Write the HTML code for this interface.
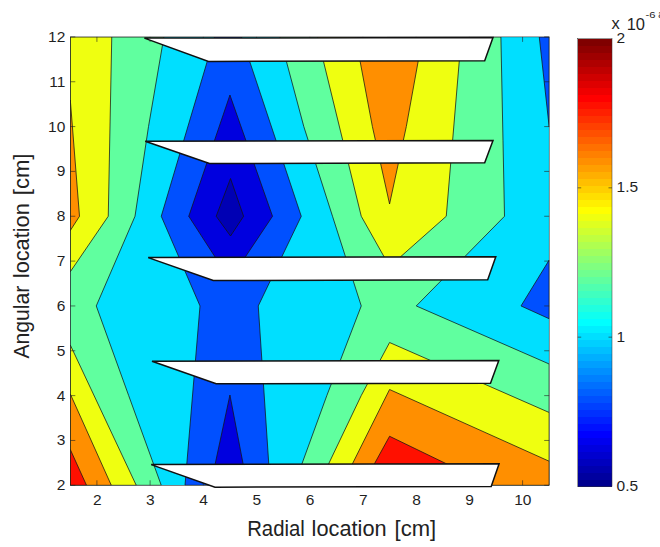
<!DOCTYPE html>
<html lang="en"><head><meta charset="utf-8"><title>Contour plot</title>
<style>html,body{margin:0;padding:0;background:#fff;}body{width:660px;height:547px;overflow:hidden;}</style>
</head><body>
<svg width="660" height="547" viewBox="0 0 660 547" style="display:block">
<rect x="0" y="0" width="660" height="547" fill="#fff"/>
<defs><clipPath id="ax"><rect x="70.3" y="36.9" width="478.90000000000003" height="448.40000000000003"/></clipPath></defs>
<g clip-path="url(#ax)">
<rect x="70.3" y="36.9" width="478.90000000000003" height="448.40000000000003" fill="#00DFFF"/>
<polygon points="70.30,36.90 163.90,36.90 148.50,126.58 135.00,216.26 96.25,305.94 128.70,395.62 161.25,485.30 70.30,485.30" fill="#60FF9F" stroke="#141414" stroke-width="0.75" stroke-linejoin="round"/>
<polygon points="70.30,36.90 111.75,36.90 108.25,216.26 70.30,271.75" fill="#EFFF10" stroke="#141414" stroke-width="0.75" stroke-linejoin="round"/>
<polygon points="70.30,100.00 79.50,216.26 70.30,230.50" fill="#FF8F00" stroke="#141414" stroke-width="0.75" stroke-linejoin="round"/>
<polygon points="70.30,345.00 136.25,485.30 70.30,485.30" fill="#EFFF10" stroke="#141414" stroke-width="0.75" stroke-linejoin="round"/>
<polygon points="70.30,394.00 111.30,485.30 70.30,485.30" fill="#FF8F00" stroke="#141414" stroke-width="0.75" stroke-linejoin="round"/>
<polygon points="70.30,449.50 86.50,485.30 70.30,485.30" fill="#FF1000" stroke="#141414" stroke-width="0.75" stroke-linejoin="round"/>
<polygon points="279.85,36.90 303.80,126.58 332.50,216.26 361.25,305.94 326.80,395.62 294.10,485.30 549.20,485.30 549.20,364.00 416.25,305.94 504.50,216.26 503.00,140.75 500.90,36.90" fill="#60FF9F" stroke="#141414" stroke-width="0.75" stroke-linejoin="round"/>
<polygon points="317.50,36.90 361.25,216.26 389.57,266.50 446.25,216.26 461.30,36.90" fill="#EFFF10" stroke="#141414" stroke-width="0.75" stroke-linejoin="round"/>
<polygon points="355.50,36.90 372.40,126.58 389.57,204.00 406.30,126.58 422.60,36.90" fill="#FF8F00" stroke="#141414" stroke-width="0.75" stroke-linejoin="round"/>
<polygon points="389.57,342.50 549.20,412.50 549.20,485.30 318.40,485.30 361.20,395.62" fill="#EFFF10" stroke="#141414" stroke-width="0.75" stroke-linejoin="round"/>
<polygon points="389.57,389.50 549.20,461.25 549.20,485.30 341.70,485.30" fill="#FF8F00" stroke="#141414" stroke-width="0.75" stroke-linejoin="round"/>
<polygon points="389.57,436.25 490.85,485.30 362.60,485.30" fill="#FF1000" stroke="#141414" stroke-width="0.75" stroke-linejoin="round"/>
<polygon points="214.50,36.90 161.25,216.26 200.00,305.94 185.00,485.30 270.20,485.30 258.25,305.94 301.25,216.26 241.50,36.90" fill="#0050FF" stroke="#141414" stroke-width="0.75" stroke-linejoin="round"/>
<polygon points="229.93,95.00 188.75,216.26 229.93,280.00 272.50,216.26" fill="#0000DF" stroke="#141414" stroke-width="0.75" stroke-linejoin="round"/>
<polygon points="230.53,178.50 243.60,216.26 230.53,236.00 216.20,216.26" fill="#0000B4" stroke="#141414" stroke-width="0.75" stroke-linejoin="round"/>
<polygon points="229.93,395.00 210.60,485.30 247.20,485.30" fill="#0000DF" stroke="#141414" stroke-width="0.75" stroke-linejoin="round"/>
<polygon points="539.25,36.90 549.20,36.90 549.20,127.00" fill="#0050FF" stroke="#141414" stroke-width="0.75" stroke-linejoin="round"/>
<polygon points="549.20,260.00 521.00,305.94 549.20,318.75" fill="#0050FF" stroke="#141414" stroke-width="0.75" stroke-linejoin="round"/>
</g>
<rect x="70.3" y="36.9" width="478.90000000000003" height="448.40000000000003" fill="none" stroke="#222" stroke-width="0.55"/>
<path d="M96.91,485.3v-5M96.91,36.9v5M150.12,485.3v-5M150.12,36.9v5M203.33,485.3v-5M203.33,36.9v5M256.54,485.3v-5M256.54,36.9v5M309.75,485.3v-5M309.75,36.9v5M362.96,485.3v-5M362.96,36.9v5M416.17,485.3v-5M416.17,36.9v5M469.38,485.3v-5M469.38,36.9v5M522.59,485.3v-5M522.59,36.9v5M70.3,485.30h5M549.2,485.30h-5M70.3,440.46h5M549.2,440.46h-5M70.3,395.62h5M549.2,395.62h-5M70.3,350.78h5M549.2,350.78h-5M70.3,305.94h5M549.2,305.94h-5M70.3,261.10h5M549.2,261.10h-5M70.3,216.26h5M549.2,216.26h-5M70.3,171.42h5M549.2,171.42h-5M70.3,126.58h5M549.2,126.58h-5M70.3,81.74h5M549.2,81.74h-5M70.3,36.90h5M549.2,36.90h-5" stroke="#222" stroke-width="0.6" fill="none"/>
<polygon points="144.40,38.10 493.00,37.50 484.70,60.80 208.50,61.40" fill="#fff" stroke="#111" stroke-width="1.5" stroke-linejoin="miter"/>
<polygon points="145.20,141.20 493.00,140.50 484.70,162.80 209.50,163.50" fill="#fff" stroke="#111" stroke-width="1.5" stroke-linejoin="miter"/>
<polygon points="148.20,257.60 495.80,256.80 487.70,279.70 213.30,280.50" fill="#fff" stroke="#111" stroke-width="1.5" stroke-linejoin="miter"/>
<polygon points="152.00,361.30 498.80,360.50 490.50,383.20 216.20,383.70" fill="#fff" stroke="#111" stroke-width="1.5" stroke-linejoin="miter"/>
<polygon points="151.20,464.60 499.10,463.80 491.20,486.60 215.00,487.20" fill="#fff" stroke="#111" stroke-width="1.5" stroke-linejoin="miter"/>
<rect x="577.7" y="479.50" width="34.30" height="7.00" fill="rgb(0,0,143)" shape-rendering="crispEdges"/>
<rect x="577.7" y="472.50" width="34.30" height="7.00" fill="rgb(0,0,159)" shape-rendering="crispEdges"/>
<rect x="577.7" y="465.50" width="34.30" height="7.00" fill="rgb(0,0,175)" shape-rendering="crispEdges"/>
<rect x="577.7" y="458.50" width="34.30" height="7.00" fill="rgb(0,0,191)" shape-rendering="crispEdges"/>
<rect x="577.7" y="451.50" width="34.30" height="7.00" fill="rgb(0,0,207)" shape-rendering="crispEdges"/>
<rect x="577.7" y="444.50" width="34.30" height="7.00" fill="rgb(0,0,223)" shape-rendering="crispEdges"/>
<rect x="577.7" y="437.50" width="34.30" height="7.00" fill="rgb(0,0,239)" shape-rendering="crispEdges"/>
<rect x="577.7" y="430.50" width="34.30" height="7.00" fill="rgb(0,0,255)" shape-rendering="crispEdges"/>
<rect x="577.7" y="423.50" width="34.30" height="7.00" fill="rgb(0,16,255)" shape-rendering="crispEdges"/>
<rect x="577.7" y="416.50" width="34.30" height="7.00" fill="rgb(0,32,255)" shape-rendering="crispEdges"/>
<rect x="577.7" y="409.50" width="34.30" height="7.00" fill="rgb(0,48,255)" shape-rendering="crispEdges"/>
<rect x="577.7" y="402.50" width="34.30" height="7.00" fill="rgb(0,64,255)" shape-rendering="crispEdges"/>
<rect x="577.7" y="395.50" width="34.30" height="7.00" fill="rgb(0,80,255)" shape-rendering="crispEdges"/>
<rect x="577.7" y="388.50" width="34.30" height="7.00" fill="rgb(0,96,255)" shape-rendering="crispEdges"/>
<rect x="577.7" y="381.50" width="34.30" height="7.00" fill="rgb(0,112,255)" shape-rendering="crispEdges"/>
<rect x="577.7" y="374.50" width="34.30" height="7.00" fill="rgb(0,128,255)" shape-rendering="crispEdges"/>
<rect x="577.7" y="367.50" width="34.30" height="7.00" fill="rgb(0,143,255)" shape-rendering="crispEdges"/>
<rect x="577.7" y="360.50" width="34.30" height="7.00" fill="rgb(0,159,255)" shape-rendering="crispEdges"/>
<rect x="577.7" y="353.50" width="34.30" height="7.00" fill="rgb(0,175,255)" shape-rendering="crispEdges"/>
<rect x="577.7" y="346.50" width="34.30" height="7.00" fill="rgb(0,191,255)" shape-rendering="crispEdges"/>
<rect x="577.7" y="339.50" width="34.30" height="7.00" fill="rgb(0,207,255)" shape-rendering="crispEdges"/>
<rect x="577.7" y="332.50" width="34.30" height="7.00" fill="rgb(0,223,255)" shape-rendering="crispEdges"/>
<rect x="577.7" y="325.50" width="34.30" height="7.00" fill="rgb(0,239,255)" shape-rendering="crispEdges"/>
<rect x="577.7" y="318.50" width="34.30" height="7.00" fill="rgb(0,255,255)" shape-rendering="crispEdges"/>
<rect x="577.7" y="311.50" width="34.30" height="7.00" fill="rgb(16,255,239)" shape-rendering="crispEdges"/>
<rect x="577.7" y="304.50" width="34.30" height="7.00" fill="rgb(32,255,223)" shape-rendering="crispEdges"/>
<rect x="577.7" y="297.50" width="34.30" height="7.00" fill="rgb(48,255,207)" shape-rendering="crispEdges"/>
<rect x="577.7" y="290.50" width="34.30" height="7.00" fill="rgb(64,255,191)" shape-rendering="crispEdges"/>
<rect x="577.7" y="283.50" width="34.30" height="7.00" fill="rgb(80,255,175)" shape-rendering="crispEdges"/>
<rect x="577.7" y="276.50" width="34.30" height="7.00" fill="rgb(96,255,159)" shape-rendering="crispEdges"/>
<rect x="577.7" y="269.50" width="34.30" height="7.00" fill="rgb(112,255,143)" shape-rendering="crispEdges"/>
<rect x="577.7" y="262.50" width="34.30" height="7.00" fill="rgb(128,255,128)" shape-rendering="crispEdges"/>
<rect x="577.7" y="255.50" width="34.30" height="7.00" fill="rgb(143,255,112)" shape-rendering="crispEdges"/>
<rect x="577.7" y="248.50" width="34.30" height="7.00" fill="rgb(159,255,96)" shape-rendering="crispEdges"/>
<rect x="577.7" y="241.50" width="34.30" height="7.00" fill="rgb(175,255,80)" shape-rendering="crispEdges"/>
<rect x="577.7" y="234.50" width="34.30" height="7.00" fill="rgb(191,255,64)" shape-rendering="crispEdges"/>
<rect x="577.7" y="227.50" width="34.30" height="7.00" fill="rgb(207,255,48)" shape-rendering="crispEdges"/>
<rect x="577.7" y="220.50" width="34.30" height="7.00" fill="rgb(223,255,32)" shape-rendering="crispEdges"/>
<rect x="577.7" y="213.50" width="34.30" height="7.00" fill="rgb(239,255,16)" shape-rendering="crispEdges"/>
<rect x="577.7" y="206.50" width="34.30" height="7.00" fill="rgb(255,255,0)" shape-rendering="crispEdges"/>
<rect x="577.7" y="199.50" width="34.30" height="7.00" fill="rgb(255,239,0)" shape-rendering="crispEdges"/>
<rect x="577.7" y="192.50" width="34.30" height="7.00" fill="rgb(255,223,0)" shape-rendering="crispEdges"/>
<rect x="577.7" y="185.50" width="34.30" height="7.00" fill="rgb(255,207,0)" shape-rendering="crispEdges"/>
<rect x="577.7" y="178.50" width="34.30" height="7.00" fill="rgb(255,191,0)" shape-rendering="crispEdges"/>
<rect x="577.7" y="171.50" width="34.30" height="7.00" fill="rgb(255,175,0)" shape-rendering="crispEdges"/>
<rect x="577.7" y="164.50" width="34.30" height="7.00" fill="rgb(255,159,0)" shape-rendering="crispEdges"/>
<rect x="577.7" y="157.50" width="34.30" height="7.00" fill="rgb(255,143,0)" shape-rendering="crispEdges"/>
<rect x="577.7" y="150.50" width="34.30" height="7.00" fill="rgb(255,128,0)" shape-rendering="crispEdges"/>
<rect x="577.7" y="143.50" width="34.30" height="7.00" fill="rgb(255,112,0)" shape-rendering="crispEdges"/>
<rect x="577.7" y="136.50" width="34.30" height="7.00" fill="rgb(255,96,0)" shape-rendering="crispEdges"/>
<rect x="577.7" y="129.50" width="34.30" height="7.00" fill="rgb(255,80,0)" shape-rendering="crispEdges"/>
<rect x="577.7" y="122.50" width="34.30" height="7.00" fill="rgb(255,64,0)" shape-rendering="crispEdges"/>
<rect x="577.7" y="115.50" width="34.30" height="7.00" fill="rgb(255,48,0)" shape-rendering="crispEdges"/>
<rect x="577.7" y="108.50" width="34.30" height="7.00" fill="rgb(255,32,0)" shape-rendering="crispEdges"/>
<rect x="577.7" y="101.50" width="34.30" height="7.00" fill="rgb(255,16,0)" shape-rendering="crispEdges"/>
<rect x="577.7" y="94.50" width="34.30" height="7.00" fill="rgb(255,0,0)" shape-rendering="crispEdges"/>
<rect x="577.7" y="87.50" width="34.30" height="7.00" fill="rgb(239,0,0)" shape-rendering="crispEdges"/>
<rect x="577.7" y="80.50" width="34.30" height="7.00" fill="rgb(223,0,0)" shape-rendering="crispEdges"/>
<rect x="577.7" y="73.50" width="34.30" height="7.00" fill="rgb(207,0,0)" shape-rendering="crispEdges"/>
<rect x="577.7" y="66.50" width="34.30" height="7.00" fill="rgb(191,0,0)" shape-rendering="crispEdges"/>
<rect x="577.7" y="59.50" width="34.30" height="7.00" fill="rgb(175,0,0)" shape-rendering="crispEdges"/>
<rect x="577.7" y="52.50" width="34.30" height="7.00" fill="rgb(159,0,0)" shape-rendering="crispEdges"/>
<rect x="577.7" y="45.50" width="34.30" height="7.00" fill="rgb(143,0,0)" shape-rendering="crispEdges"/>
<rect x="577.7" y="38.50" width="34.30" height="7.00" fill="rgb(128,0,0)" shape-rendering="crispEdges"/>
<rect x="577.7" y="38.5" width="34.30" height="448.00" fill="none" stroke="#333" stroke-width="0.5"/>
<path d="M577.7,337.17h3.5M612.0,337.17h-3.5M577.7,187.83h3.5M612.0,187.83h-3.5" stroke="#222" stroke-width="0.6" fill="none"/>
<g font-family="Liberation Sans, Arial, sans-serif" fill="#1f1f1f" font-size="15.5">
<text x="97.21" y="504.7" text-anchor="middle">2</text>
<text x="150.42" y="504.7" text-anchor="middle">3</text>
<text x="203.63" y="504.7" text-anchor="middle">4</text>
<text x="256.84" y="504.7" text-anchor="middle">5</text>
<text x="310.05" y="504.7" text-anchor="middle">6</text>
<text x="363.26" y="504.7" text-anchor="middle">7</text>
<text x="416.47" y="504.7" text-anchor="middle">8</text>
<text x="469.68" y="504.7" text-anchor="middle">9</text>
<text x="522.89" y="504.7" text-anchor="middle">10</text>
<text x="65.3" y="490.30" text-anchor="end">2</text>
<text x="65.3" y="445.46" text-anchor="end">3</text>
<text x="65.3" y="400.62" text-anchor="end">4</text>
<text x="65.3" y="355.78" text-anchor="end">5</text>
<text x="65.3" y="310.94" text-anchor="end">6</text>
<text x="65.3" y="266.10" text-anchor="end">7</text>
<text x="65.3" y="221.26" text-anchor="end">8</text>
<text x="65.3" y="176.42" text-anchor="end">9</text>
<text x="65.3" y="131.58" text-anchor="end">10</text>
<text x="65.3" y="86.74" text-anchor="end">11</text>
<text x="65.3" y="41.90" text-anchor="end">12</text>
<text x="616.6" y="43.10">2</text>
<text x="616.6" y="192.43">1.5</text>
<text x="616.6" y="341.77">1</text>
<text x="616.6" y="491.10">0.5</text>
</g>
<text x="611.6" y="29.4" font-family="Liberation Sans, Arial, sans-serif" fill="#1f1f1f" font-size="16.5">x</text>
<text x="626.7" y="29.5" font-family="Liberation Sans, Arial, sans-serif" fill="#1f1f1f" font-size="16.5">10</text>
<text x="645.4" y="18.4" font-family="Liberation Sans, Arial, sans-serif" fill="#1f1f1f" font-size="9.5" textLength="10" lengthAdjust="spacingAndGlyphs">-6</text>
<text x="658.2" y="18.4" font-family="Liberation Sans, Arial, sans-serif" fill="#1f1f1f" font-size="10">a</text>
<g font-family="Liberation Sans, Arial, sans-serif" fill="#222">
<text x="247.2" y="535.7" font-size="21.5" lengthAdjust="spacingAndGlyphs" textLength="57.6">Radial</text>
<text x="311.6" y="535.7" font-size="21.5" lengthAdjust="spacingAndGlyphs" textLength="75.0">location</text>
<text x="394.6" y="535.7" font-size="21.5" lengthAdjust="spacingAndGlyphs" textLength="41.6">[cm]</text>
<text transform="translate(29.3,358.6) rotate(-90)" font-size="21.5" lengthAdjust="spacingAndGlyphs" textLength="73.0">Angular</text>
<text transform="translate(29.3,278.2) rotate(-90)" font-size="21.5" lengthAdjust="spacingAndGlyphs" textLength="75.0">location</text>
<text transform="translate(29.3,195.2) rotate(-90)" font-size="21.5" lengthAdjust="spacingAndGlyphs" textLength="41.6">[cm]</text>
</g>
</svg>
</body></html>
